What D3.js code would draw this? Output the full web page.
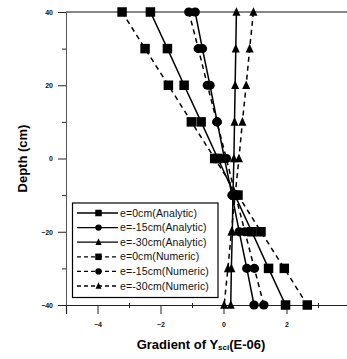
<!DOCTYPE html>
<html><head><meta charset="utf-8">
<script src="https://cdn.jsdelivr.net/npm/d3@7"></script>
<style>body{margin:0;background:#fff}svg{display:block}</style>
</head><body>
<script>
const depths = [40, 30, 20, 10, 0, -10, -20, -30, -40];
const e0Analytic   = [-2.32, -1.78, -1.25, -0.71, -0.18, 0.36, 0.90, 1.43, 1.97];
const e15Analytic  = [-0.90, -0.67, -0.43, -0.20, 0.03, 0.27, 0.50, 0.74, 0.97];
const e30Analytic  = [0.41, 0.39, 0.37, 0.35, 0.33, 0.30, 0.28, 0.25, 0.23];
const e0Numeric    = [-3.22, -2.49, -1.75, -1.02, -0.28, 0.46, 1.19, 1.93, 2.66];
const e15Numeric   = [-1.10, -0.80, -0.51, -0.21, 0.09, 0.38, 0.68, 0.98, 1.28];
const e30Numeric   = [0.95, 0.83, 0.72, 0.60, 0.49, 0.37, 0.25, 0.14, 0.02];
const seriesNames = ["e=0cm(Analytic)", "e=-15cm(Analytic)", "e=-30cm(Analytic)",
                     "e=0cm(Numeric)", "e=-15cm(Numeric)", "e=-30cm(Numeric)"];
const xTicks = [-4, -2, 0, 2];
const xEndTick = [4];
const xMinorTicks = [-3, -1, 1, 3];
const yTicks = [40, 20, 0, -20, -40];
const yMinorTicks = [30, 10, -10, -30];

const series = [
  {name: seriesNames[0], vals: e0Analytic, shape: "square", dashed: false},
  {name: seriesNames[1], vals: e15Analytic, shape: "circle", dashed: false},
  {name: seriesNames[2], vals: e30Analytic, shape: "triangle", dashed: false},
  {name: seriesNames[3], vals: e0Numeric, shape: "square", dashed: true},
  {name: seriesNames[4], vals: e15Numeric, shape: "circle", dashed: true},
  {name: seriesNames[5], vals: e30Numeric, shape: "triangle", dashed: true}
];

const W = 347, H = 359;
const svg = d3.select("body").append("svg").attr("width", W).attr("height", H);
const x = d3.scaleLinear().domain([-5, 4]).range([66, 349.5]);
const y = d3.scaleLinear().domain([-40, 40]).range([305, 12]);
const FONT = "Liberation Sans, Arial, sans-serif";

// top frame line
svg.append("line").attr("x1", x(-5)).attr("x2", x(4)).attr("y1", y(40)).attr("y2", y(40))
  .attr("stroke", "#111").attr("stroke-width", 1.2);

// left axis
const yAxis = d3.axisLeft(y).tickValues(yTicks).tickSize(8).tickPadding(5).tickFormat(d3.format("d"));
const gy = svg.append("g").attr("transform", `translate(${x(-5)},0)`).call(yAxis);
gy.select(".domain").attr("stroke", "#555").attr("stroke-width", 1);
gy.selectAll(".tick line").attr("stroke", "#222");
gy.selectAll("text").attr("font-family", FONT)
  .attr("font-size", 7).attr("font-weight", "bold").attr("fill", "#111");
const yMinor = d3.axisLeft(y).tickValues(yMinorTicks).tickSize(4).tickFormat("");
const gym = svg.append("g").attr("transform", `translate(${x(-5)},0)`).call(yMinor);
gym.select(".domain").remove();
gym.selectAll(".tick line").attr("stroke", "#222");

// bottom axis
const xAxis = d3.axisBottom(x).tickValues(xTicks).tickSize(9).tickPadding(8).tickFormat(d3.format("d"));
const gx = svg.append("g").attr("transform", `translate(0,${y(-40)})`).call(xAxis);
gx.select(".domain").attr("stroke", "#222").attr("stroke-width", 1.2);
gx.selectAll(".tick line").attr("stroke", "#222");
gx.selectAll("text").attr("font-family", FONT)
  .attr("font-size", 7).attr("font-weight", "bold").attr("fill", "#111");
const xEnd = d3.axisBottom(x).tickValues(xEndTick).tickSize(9).tickFormat("");
const gxe = svg.append("g").attr("transform", `translate(0,${y(-40)})`).call(xEnd);
gxe.select(".domain").remove();
gxe.selectAll(".tick line").attr("stroke", "#222");
const xMinor = d3.axisBottom(x).tickValues(xMinorTicks).tickSize(3).tickFormat("");
const gxm = svg.append("g").attr("transform", `translate(0,${y(-40)})`).call(xMinor);
gxm.select(".domain").remove();
gxm.selectAll(".tick line").attr("stroke", "#222").attr("y1", -2);

// axis titles
svg.append("text").attr("transform", `translate(27,${y(0)}) rotate(-90)`)
  .attr("text-anchor", "middle").attr("font-family", FONT)
  .attr("font-size", 13).attr("font-weight", "bold").text("Depth (cm)");
const xt = svg.append("text").attr("x", 201).attr("y", 349).attr("text-anchor", "middle")
  .attr("font-family", FONT).attr("font-size", 13).attr("font-weight", "bold");
xt.append("tspan").text("Gradient of Y");
xt.append("tspan").attr("font-size", 8).attr("dy", 1).text("sci");
xt.append("tspan").attr("dy", -1).text("(E-06)");

function drawMarker(g, shape, cx, cy, s) {
  if (shape === "square") {
    g.append("rect").attr("x", cx - s / 2).attr("y", cy - s / 2).attr("width", s).attr("height", s).attr("fill", "#000");
  } else if (shape === "circle") {
    g.append("ellipse").attr("cx", cx).attr("cy", cy).attr("rx", s / 2).attr("ry", s / 2 * 0.95).attr("fill", "#000");
  } else {
    const h = s * 0.95;
    g.append("path").attr("d", `M${cx},${cy - h / 2 - 1}L${cx + s / 2},${cy + h / 2}L${cx - s / 2},${cy + h / 2}Z`).attr("fill", "#000");
  }
}

const line = d3.line().x(d => x(d[0])).y(d => y(d[1]));
const plot = svg.append("g");
series.forEach(s => {
  const pts = s.vals.map((v, i) => [v, depths[i]]);
  plot.append("path").datum(pts).attr("d", line).attr("fill", "none")
    .attr("stroke", "#000").attr("stroke-width", 1.5)
    .attr("stroke-dasharray", s.dashed ? "5,4" : null);
});
series.forEach(s => {
  const g = plot.append("g");
  s.vals.forEach((v, i) => {
    const sz = s.shape === "triangle" ? 8 : 9.5;
    drawMarker(g, s.shape, x(v), y(depths[i]), sz);
  });
});

// legend
const lg = svg.append("g");
lg.append("rect").attr("x", 72.5).attr("y", 203).attr("width", 145.5).attr("height", 94.5)
  .attr("fill", "#fff").attr("stroke", "#000").attr("stroke-width", 1.2);
series.forEach((s, i) => {
  const ly = 213 + i * 14.6;
  lg.append("line").attr("x1", 77).attr("x2", 118).attr("y1", ly).attr("y2", ly)
    .attr("stroke", "#000").attr("stroke-width", 1.3)
    .attr("stroke-dasharray", s.dashed ? "4,3" : null);
  drawMarker(lg, s.shape, 98.5, ly, s.shape === "triangle" ? 6 : 6.5);
  lg.append("text").attr("x", 120).attr("y", ly + 3.6)
    .attr("font-family", FONT).attr("font-size", 10.5)
    .attr("letter-spacing", 0.1).attr("fill", "#111").text(s.name);
});
</script>
</body></html>
